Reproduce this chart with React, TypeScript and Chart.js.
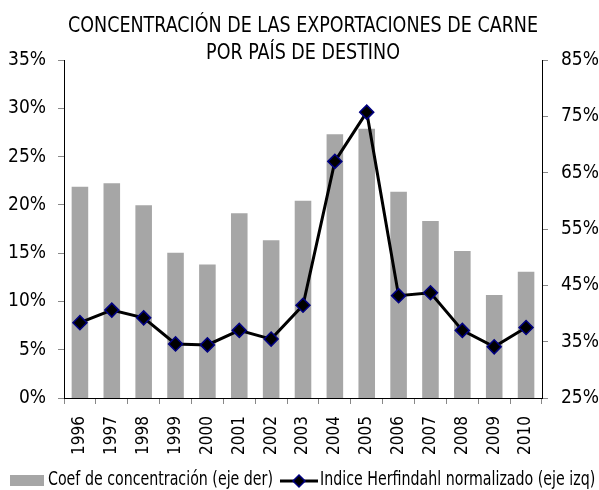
import React, { useEffect, useRef } from "react";
import { Chart, registerables } from "chart.js";

Chart.register(...registerables);

const years = ["1996","1997","1998","1999","2000","2001","2002","2003","2004","2005","2006","2007","2008","2009","2010"];
// Coef de concentración (eje der), %
const coefConcentracion = [62.5, 63.1, 59.2, 50.8, 48.7, 57.8, 53.0, 60.0, 71.8, 72.8, 61.6, 56.4, 51.1, 43.3, 47.4];
// Indice Herfindahl normalizado (eje izq), %
const herfindahl = [7.8, 9.1, 8.3, 5.6, 5.5, 7.0, 6.1, 9.6, 24.5, 29.6, 10.6, 10.9, 7.0, 5.3, 7.3];
const titleLines = ["CONCENTRACIÓN DE LAS EXPORTACIONES DE CARNE", "POR PAÍS DE DESTINO"];
const legendBar = "Coef de concentración (eje der)";
const legendLine = "Indice Herfindahl normalizado (eje izq)";

const FONT = "'Liberation Sans Narrow', 'Arial Narrow', 'DejaVu Sans Condensed', sans-serif";

function narrowText(ctx: CanvasRenderingContext2D, text: string, x: number, y: number, sx: number, align: "left" | "center") {
  ctx.save();
  ctx.translate(x, y);
  ctx.scale(sx, 1);
  ctx.textAlign = align;
  ctx.fillText(text, 0, 0);
  ctx.restore();
}

const decorPlugin = {
  id: "decor",
  afterDraw(chart: any) {
    const ctx = chart.ctx as CanvasRenderingContext2D;
    const area = chart.chartArea;
    ctx.save();
    ctx.fillStyle = "#000";
    ctx.textBaseline = "alphabetic";
    ctx.font = `22px ${FONT}`;
    const cx = (area.left + area.right) / 2;
    const tsx = 470 / ctx.measureText(titleLines[0]).width;
    narrowText(ctx, titleLines[0], cx, 32, tsx, "center");
    narrowText(ctx, titleLines[1], cx, 59, tsx, "center");

    // legend
    const ly = 480;
    ctx.font = `20px ${FONT}`;
    ctx.textBaseline = "middle";
    const lsx = 225 / ctx.measureText(legendBar).width;
    ctx.fillStyle = "#a6a6a6";
    ctx.fillRect(10, ly - 5, 34, 11);
    ctx.fillStyle = "#000";
    narrowText(ctx, legendBar, 48, ly, lsx, "left");
    const lx = 280;
    ctx.strokeStyle = "#000";
    ctx.lineWidth = 3;
    ctx.beginPath();
    ctx.moveTo(lx, ly + 1);
    ctx.lineTo(lx + 38, ly + 1);
    ctx.stroke();
    const dx = lx + 19, dy = ly + 1, r = 6;
    ctx.beginPath();
    ctx.moveTo(dx, dy - r);
    ctx.lineTo(dx + r, dy);
    ctx.lineTo(dx, dy + r);
    ctx.lineTo(dx - r, dy);
    ctx.closePath();
    ctx.fillStyle = "#000";
    ctx.fill();
    ctx.strokeStyle = "#000080";
    ctx.lineWidth = 1.5;
    ctx.stroke();
    ctx.fillStyle = "#000";
    narrowText(ctx, legendLine, 320, ly, lsx, "left");
    ctx.restore();
  },
};

export default function App() {
  const ref = useRef<HTMLCanvasElement | null>(null);
  useEffect(() => {
    document.body.style.margin = "0";
    const tickFont = { family: FONT, size: 19 };
    const chart = new Chart(ref.current as HTMLCanvasElement, {
      type: "bar",
      data: {
        labels: years,
        datasets: [
          {
            type: "line",
            label: legendLine,
            data: herfindahl,
            yAxisID: "yL",
            borderColor: "#000",
            borderWidth: 3,
            pointStyle: "rectRot",
            pointRadius: 7,
            pointBackgroundColor: "#000",
            pointBorderColor: "#000080",
            pointBorderWidth: 1.5,
            order: 0,
          } as any,
          {
            type: "bar",
            label: legendBar,
            data: coefConcentracion,
            yAxisID: "yR",
            backgroundColor: "#a6a6a6",
            categoryPercentage: 1,
            barPercentage: 0.52,
            order: 1,
          },
        ],
      },
      options: {
        animation: false,
        responsive: true,
        maintainAspectRatio: false,
        layout: { padding: { top: 60, left: 0, right: 0, bottom: 0 } },
        plugins: { legend: { display: false }, title: { display: false }, tooltip: { enabled: false } },
        scales: {
          x: {
            offset: true,
            grid: { offset: true, drawOnChartArea: false, drawTicks: true, tickLength: 6, color: "#888" },
            border: { color: "#000", width: 1 },
            ticks: { font: { family: FONT, size: 17 }, color: "#000", minRotation: 90, maxRotation: 90, padding: 12, autoSkip: false },
            afterFit: (s: any) => { s.height = 92; },
          },
          yL: {
            position: "left",
            min: 0,
            max: 35,
            grid: { drawOnChartArea: false, drawTicks: true, tickLength: 6, color: "#888" },
            border: { color: "#000", width: 1 },
            ticks: { stepSize: 5, font: tickFont, color: "#000", padding: 12, callback: (v: any) => `${v}%` },
            afterFit: (s: any) => { s.width = 64; },
          },
          yR: {
            position: "right",
            min: 25,
            max: 85,
            grid: { drawOnChartArea: false, drawTicks: true, tickLength: 6, color: "#888" },
            border: { color: "#000", width: 1 },
            ticks: { stepSize: 10, font: tickFont, color: "#000", padding: 13, callback: (v: any) => `${v}%` },
            afterFit: (s: any) => { s.width = 57; },
          },
        },
      },
      plugins: [decorPlugin],
    });
    return () => chart.destroy();
  }, []);
  return (
    <div style={{ position: "relative", width: 599, height: 490 }}>
      <canvas ref={ref} />
    </div>
  );
}
